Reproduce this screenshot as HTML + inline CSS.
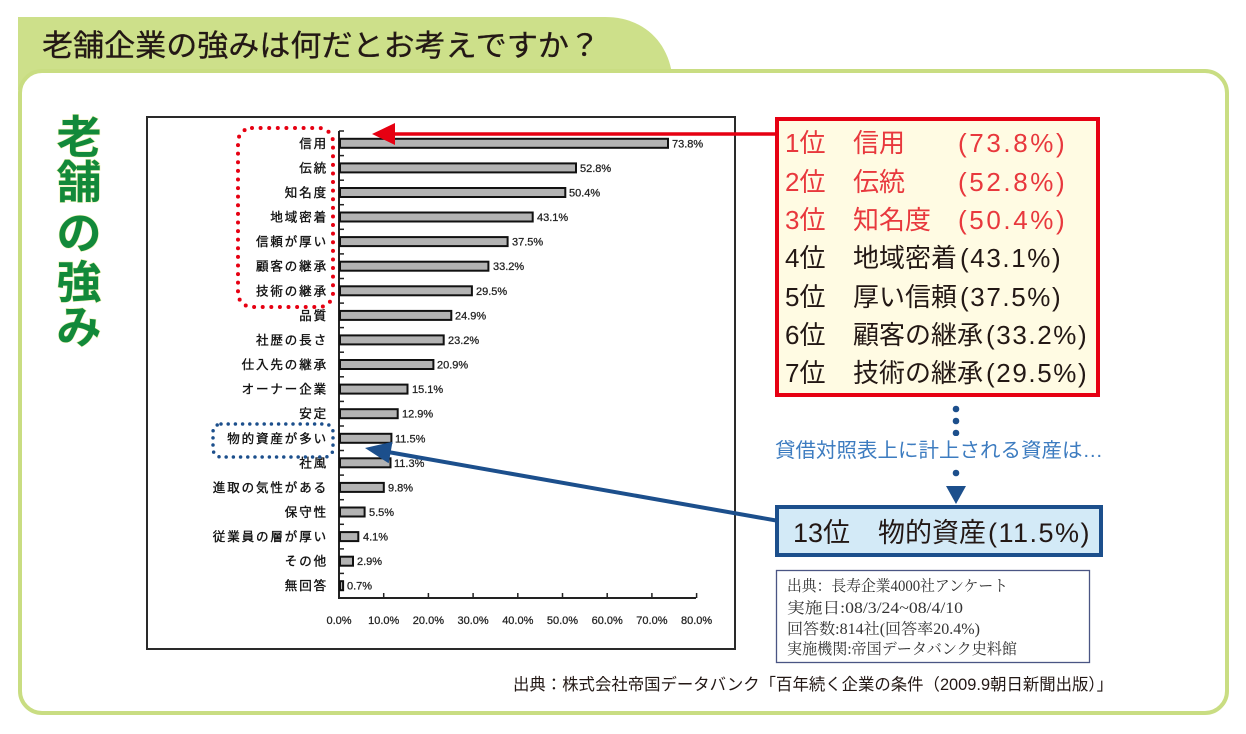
<!DOCTYPE html>
<html><head><meta charset="utf-8"><style>
html,body{margin:0;padding:0;background:#fff;}
svg{display:block;}
.jp{font-family:"Liberation Sans","Noto Sans CJK JP",sans-serif;}
.serif{font-family:"Liberation Serif","Noto Serif CJK SC",serif;}
</style></head><body>
<svg width="1246" height="734" viewBox="0 0 1246 734" xmlns="http://www.w3.org/2000/svg">
<!-- tab -->
<path d="M18,17 H605 C642,17 667,40 672,74 V90 H18 Z" fill="#cde08a"/>
<!-- frame -->
<rect x="20" y="71" width="1207" height="642" rx="22" ry="22" fill="#fff" stroke="#c9dd82" stroke-width="4"/>
<text x="42" y="56" class="jp" font-size="30" fill="#231815" stroke="#231815" stroke-width="0.3" textLength="558" lengthAdjust="spacingAndGlyphs">老舗企業の強みは何だとお考えですか？</text>

<!-- vertical title -->
<g class="jp" font-size="45" font-weight="bold" fill="#12893a" text-anchor="middle" stroke="#f1f3b8" stroke-width="1.2" paint-order="stroke">
<text x="79" y="153">老</text>
<text x="79" y="198">舗</text>
<text x="79" y="249">の</text>
<text x="79" y="298">強</text>
<text x="79" y="343">み</text>
</g>

<!-- chart box -->
<rect x="147" y="117" width="588" height="532" fill="#fff" stroke="#2a2a2a" stroke-width="2"/>

<!-- axes -->
<line x1="339" y1="131" x2="339" y2="599" stroke="#222" stroke-width="2"/>
<line x1="338" y1="598" x2="696" y2="598" stroke="#222" stroke-width="2"/>
<g stroke="#222" stroke-width="1.5">
<line x1="339" y1="131" x2="344" y2="131"/><line x1="339" y1="155.6" x2="344" y2="155.6"/><line x1="339" y1="180.2" x2="344" y2="180.2"/><line x1="339" y1="204.7" x2="344" y2="204.7"/><line x1="339" y1="229.3" x2="344" y2="229.3"/><line x1="339" y1="253.9" x2="344" y2="253.9"/><line x1="339" y1="278.5" x2="344" y2="278.5"/><line x1="339" y1="303.1" x2="344" y2="303.1"/><line x1="339" y1="327.6" x2="344" y2="327.6"/><line x1="339" y1="352.2" x2="344" y2="352.2"/><line x1="339" y1="376.8" x2="344" y2="376.8"/><line x1="339" y1="401.4" x2="344" y2="401.4"/><line x1="339" y1="426" x2="344" y2="426"/><line x1="339" y1="450.5" x2="344" y2="450.5"/><line x1="339" y1="475.1" x2="344" y2="475.1"/><line x1="339" y1="499.7" x2="344" y2="499.7"/><line x1="339" y1="524.3" x2="344" y2="524.3"/><line x1="339" y1="548.9" x2="344" y2="548.9"/><line x1="339" y1="573.4" x2="344" y2="573.4"/>
<line x1="383.7" y1="593" x2="383.7" y2="598"/><line x1="428.4" y1="593" x2="428.4" y2="598"/><line x1="473.1" y1="593" x2="473.1" y2="598"/><line x1="517.8" y1="593" x2="517.8" y2="598"/><line x1="562.5" y1="593" x2="562.5" y2="598"/><line x1="607.2" y1="593" x2="607.2" y2="598"/><line x1="651.9" y1="593" x2="651.9" y2="598"/><line x1="696.6" y1="593" x2="696.6" y2="598"/>
</g>
<g font-family="Liberation Sans, sans-serif" font-size="11" fill="#222" stroke="#222" stroke-width="0.25" text-anchor="middle">
<text x="339" y="624">0.0%</text><text x="383.7" y="624">10.0%</text><text x="428.4" y="624">20.0%</text><text x="473.1" y="624">30.0%</text><text x="517.8" y="624">40.0%</text><text x="562.5" y="624">50.0%</text><text x="607.2" y="624">60.0%</text><text x="651.9" y="624">70.0%</text><text x="696.6" y="624">80.0%</text>
</g>

<!-- bars -->
<g fill="#b3b3b3" stroke="#111" stroke-width="2">
<rect x="340" y="138.8" width="328" height="9"/>
<rect x="340" y="163.4" width="236" height="9"/>
<rect x="340" y="188" width="225.3" height="9"/>
<rect x="340" y="212.5" width="192.7" height="9"/>
<rect x="340" y="237.1" width="167.6" height="9"/>
<rect x="340" y="261.7" width="148.4" height="9"/>
<rect x="340" y="286.3" width="131.9" height="9"/>
<rect x="340" y="310.9" width="111.3" height="9"/>
<rect x="340" y="335.4" width="103.7" height="9"/>
<rect x="340" y="360" width="93.4" height="9"/>
<rect x="340" y="384.6" width="67.5" height="9"/>
<rect x="340" y="409.2" width="57.7" height="9"/>
<rect x="340" y="433.8" width="51.4" height="9"/>
<rect x="340" y="458.3" width="50.5" height="9"/>
<rect x="340" y="482.9" width="43.8" height="9"/>
<rect x="340" y="507.5" width="24.6" height="9"/>
<rect x="340" y="532.1" width="18.3" height="9"/>
<rect x="340" y="556.7" width="13" height="9"/>
<rect x="340" y="581.2" width="3.1" height="9"/>
</g>
<g font-family="Liberation Sans, sans-serif" font-size="11" fill="#222" stroke="#222" stroke-width="0.25">
<text x="672" y="147.3">73.8%</text>
<text x="580" y="171.9">52.8%</text>
<text x="569" y="196.5">50.4%</text>
<text x="537" y="221">43.1%</text>
<text x="512" y="245.6">37.5%</text>
<text x="493" y="270.2">33.2%</text>
<text x="476" y="294.8">29.5%</text>
<text x="455" y="319.4">24.9%</text>
<text x="448" y="343.9">23.2%</text>
<text x="437" y="368.5">20.9%</text>
<text x="412" y="393.1">15.1%</text>
<text x="402" y="417.7">12.9%</text>
<text x="395" y="442.3">11.5%</text>
<text x="394" y="466.8">11.3%</text>
<text x="388" y="491.4">9.8%</text>
<text x="369" y="516">5.5%</text>
<text x="363" y="540.6">4.1%</text>
<text x="357" y="565.2">2.9%</text>
<text x="347" y="589.7">0.7%</text>
</g>
<g class="jp" font-size="12.5" fill="#111" stroke="#111" stroke-width="0.35" text-anchor="end" letter-spacing="1.9">
<text x="328" y="147.8">信用</text>
<text x="328" y="172.4">伝統</text>
<text x="328" y="197">知名度</text>
<text x="328" y="221.5">地域密着</text>
<text x="328" y="246.1">信頼が厚い</text>
<text x="328" y="270.7">顧客の継承</text>
<text x="328" y="295.3">技術の継承</text>
<text x="328" y="319.9">品質</text>
<text x="328" y="344.4">社歴の長さ</text>
<text x="328" y="369">仕入先の継承</text>
<text x="328" y="393.6">オーナー企業</text>
<text x="328" y="418.2">安定</text>
<text x="328" y="442.8">物的資産が多い</text>
<text x="328" y="467.3">社風</text>
<text x="328" y="491.9">進取の気性がある</text>
<text x="328" y="516.5">保守性</text>
<text x="328" y="541.1">従業員の層が厚い</text>
<text x="328" y="565.7">その他</text>
<text x="328" y="590.2">無回答</text>
</g>

<!-- dotted highlight boxes -->
<rect x="238" y="128" width="95" height="179" rx="14" ry="14" fill="none" stroke="#e60012" stroke-width="4" stroke-linecap="round" stroke-dasharray="0 8.6"/>
<rect x="213" y="424" width="120" height="33" rx="8" ry="8" fill="none" stroke="#1c4f8c" stroke-width="3.5" stroke-linecap="round" stroke-dasharray="0 7.2"/>

<!-- red arrow -->
<line x1="777" y1="134" x2="392" y2="134" stroke="#e60012" stroke-width="3.5"/>
<polygon points="372,134 395,123 395,145" fill="#e60012"/>

<!-- red box -->
<rect x="777" y="119" width="321" height="276" fill="#fffbe3" stroke="#e60012" stroke-width="4"/>
<g class="jp" font-size="26">
<g fill="#e8383d">
<text x="785" y="152">1位</text><text x="853" y="152">信用</text><text x="958" y="152" letter-spacing="2.6">(73.8%)</text>
<text x="785" y="191">2位</text><text x="853" y="191">伝統</text><text x="958" y="191" letter-spacing="2.6">(52.8%)</text>
<text x="785" y="229">3位</text><text x="853" y="229">知名度</text><text x="958" y="229" letter-spacing="2.6">(50.4%)</text>
</g>
<g fill="#231815">
<text x="785" y="267">4位</text><text x="853" y="267">地域密着<tspan dx="3" letter-spacing="1.6">(43.1%)</tspan></text>
<text x="785" y="306">5位</text><text x="853" y="306">厚い信頼<tspan dx="3" letter-spacing="1.6">(37.5%)</tspan></text>
<text x="785" y="344">6位</text><text x="853" y="344">顧客の継承<tspan dx="3" letter-spacing="1.6">(33.2%)</tspan></text>
<text x="785" y="382">7位</text><text x="853" y="382">技術の継承<tspan dx="3" letter-spacing="1.6">(29.5%)</tspan></text>
</g>
</g>

<!-- connector -->
<g fill="#1c4f8c">
<circle cx="956" cy="409" r="3.3"/>
<circle cx="956" cy="421" r="3.3"/>
<circle cx="956" cy="433" r="3.3"/>
<circle cx="956" cy="473" r="3.3"/>
<polygon points="946,486 966,486 956,504"/>
</g>
<rect x="772" y="436" width="334" height="28" fill="#fff"/>
<text x="775" y="457" class="jp" font-size="20" fill="#3d7cc0" textLength="328" lengthAdjust="spacingAndGlyphs">貸借対照表上に計上される資産は…</text>

<!-- blue arrow -->
<line x1="779" y1="521" x2="388" y2="452" stroke="#1c4f8c" stroke-width="4"/>
<polygon points="365,448 388.7,463.3 392.5,441.7" fill="#1c4f8c"/>

<!-- blue box -->
<rect x="777" y="507" width="324" height="48" fill="#d3eaf7" stroke="#1c4f8c" stroke-width="4"/>
<g class="jp" font-size="27" fill="#231815">
<text x="793" y="542">13位</text>
<text x="878" y="542">物的資産<tspan dx="2" letter-spacing="1.5">(11.5%)</tspan></text>
</g>

<!-- source box -->
<rect x="776.5" y="570.5" width="313" height="92" fill="#fff" stroke="#4a5584" stroke-width="1.3"/>
<g class="serif" font-size="15.5" fill="#333">
<text x="787" y="591" textLength="221" lengthAdjust="spacingAndGlyphs">出典：長寿企業4000社アンケート</text>
<text x="787" y="613" textLength="176" lengthAdjust="spacingAndGlyphs">実施日:08/3/24~08/4/10</text>
<text x="787" y="634" textLength="193" lengthAdjust="spacingAndGlyphs">回答数:814社(回答率20.4%)</text>
<text x="787" y="654" textLength="230" lengthAdjust="spacingAndGlyphs">実施機関:帝国データバンク史料館</text>
</g>

<!-- credit -->
<text x="513" y="690" class="jp" font-size="16.5" fill="#231815" textLength="600" lengthAdjust="spacingAndGlyphs">出典：株式会社帝国データバンク「百年続く企業の条件（2009.9朝日新聞出版）」</text>
</svg>
</body></html>
